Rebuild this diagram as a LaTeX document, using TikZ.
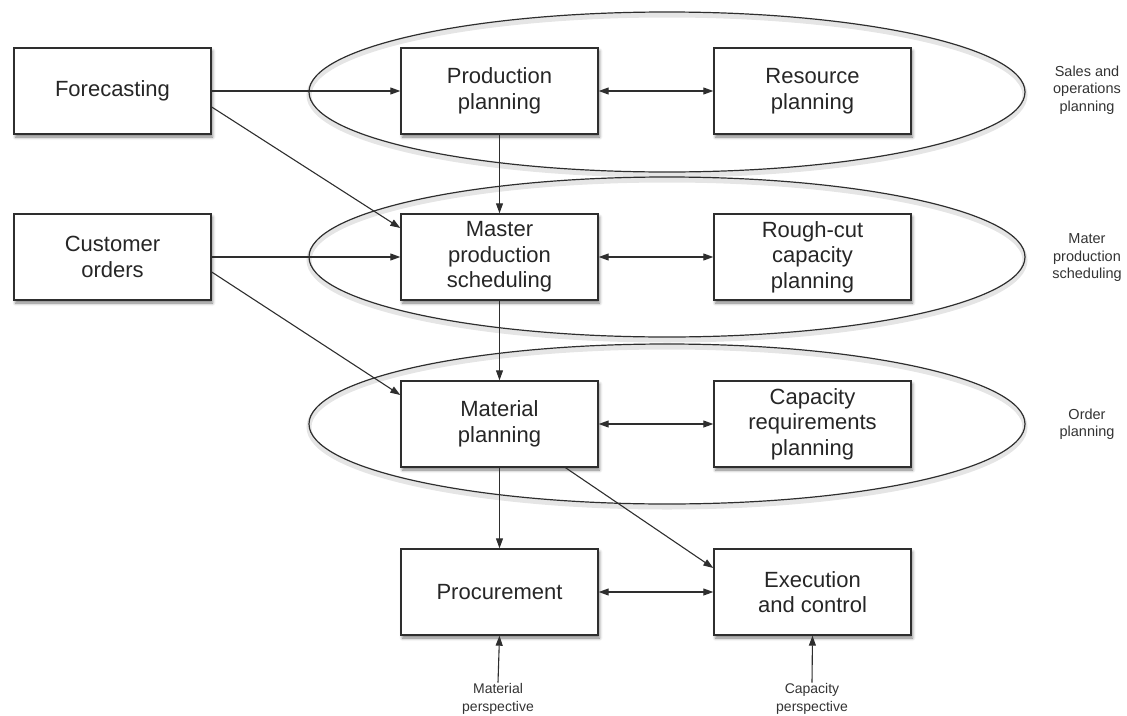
\documentclass[tikz,border=0pt]{standalone}
\usepackage{fontspec}
\setmainfont{Liberation Sans}
\usetikzlibrary{arrows.meta,shadows.blur,backgrounds,calc}
\definecolor{ink}{HTML}{2E2E2E}
\begin{document}
\begin{tikzpicture}[x=1pt,y=-1pt,
  box/.style={draw=ink, line width=1.4pt, fill=white, minimum width=197pt,
    minimum height=86pt, inner sep=0pt, align=center,
    font=\fontsize{22}{25.5}\selectfont, text=black!85,
    blur shadow={shadow xshift=1.5pt, shadow yshift=-3pt,
      shadow blur radius=3pt, shadow opacity=50}},
  tip/.tip={Triangle[length=10pt,width=7pt]},
  flow/.style={draw=ink, line width=1.1pt, -tip},
  both/.style={draw=ink, line width=1.1pt, tip-tip},
  side/.style={align=center, font=\fontsize{14.5}{17.5}\selectfont, text=black!80},
  persp/.style={align=center, font=\fontsize{14}{17.5}\selectfont, text=black!80, inner sep=1pt},
  ring/.style={draw=ink, line width=1.2pt},
  ringshade/.style={draw=black!10, line width=5pt}]
\useasboundingbox (0,0) rectangle (1127,715);

% planning boxes
\node[box] (fc)   at (112.5,91)  {Forecasting};
\node[box] (pp)   at (499.5,91)  {Production\\planning};
\node[box] (rp)   at (812.5,91)  {Resource\\planning};
\node[box] (co)   at (112.5,257) {Customer\\orders};
\node[box] (mps)  at (499.5,257) {Master\\production\\scheduling};
\node[box] (rcc)  at (812.5,257) {Rough-cut\\capacity\\planning};
\node[box] (mp)   at (499.5,424) {Material\\planning};
\node[box] (crp)  at (812.5,424) {Capacity\\requirements\\planning};
\node[box] (proc) at (499.5,592) {Procurement};
\node[box] (ex)   at (812.5,592) {Execution\\and control};

% planning levels
\begin{scope}[on background layer]
  \foreach \cy in {92,257,424} {
    \draw[ringshade] (667,\cy+3) ellipse [x radius=358, y radius=80];
    \draw[ring] (667,\cy) ellipse [x radius=358, y radius=80];
  }
\end{scope}

\node[side] (lv1) at (1087,90)  {Sales and\\operations\\planning};
\node[side] (lv2) at (1087,258) {Mater\\production\\scheduling};
\node[side] (lv3) at (1087,424) {Order\\planning};

% perspectives
\node[persp] (matp) at (498,699) {Material\\perspective};
\node[persp] (capp) at (812,699) {Capacity\\perspective};

% flows
\draw[flow] (fc.east) -- (pp.west);
\draw[flow] ([yshift=-16pt]fc.east) -- ([yshift=29pt]mps.west);
\draw[flow] (co.east) -- (mps.west);
\draw[flow] ([yshift=-15pt]co.east) -- ([yshift=29pt]mp.west);
\draw[flow] (pp.south) -- (mps.north);
\draw[flow] (mps.south) -- (mp.north);
\draw[flow] (mp.south) -- (proc.north);
\draw[flow] ([xshift=66pt]mp.south) -- ([yshift=24pt]ex.west);
\draw[flow] (matp.north) -- (proc.south);
\draw[flow] (capp.north) -- (ex.south);

\draw[both] (pp.east) -- (rp.west);
\draw[both] (mps.east) -- (rcc.west);
\draw[both] (mp.east) -- (crp.west);
\draw[both] (proc.east) -- (ex.west);
\end{tikzpicture}
\end{document}
